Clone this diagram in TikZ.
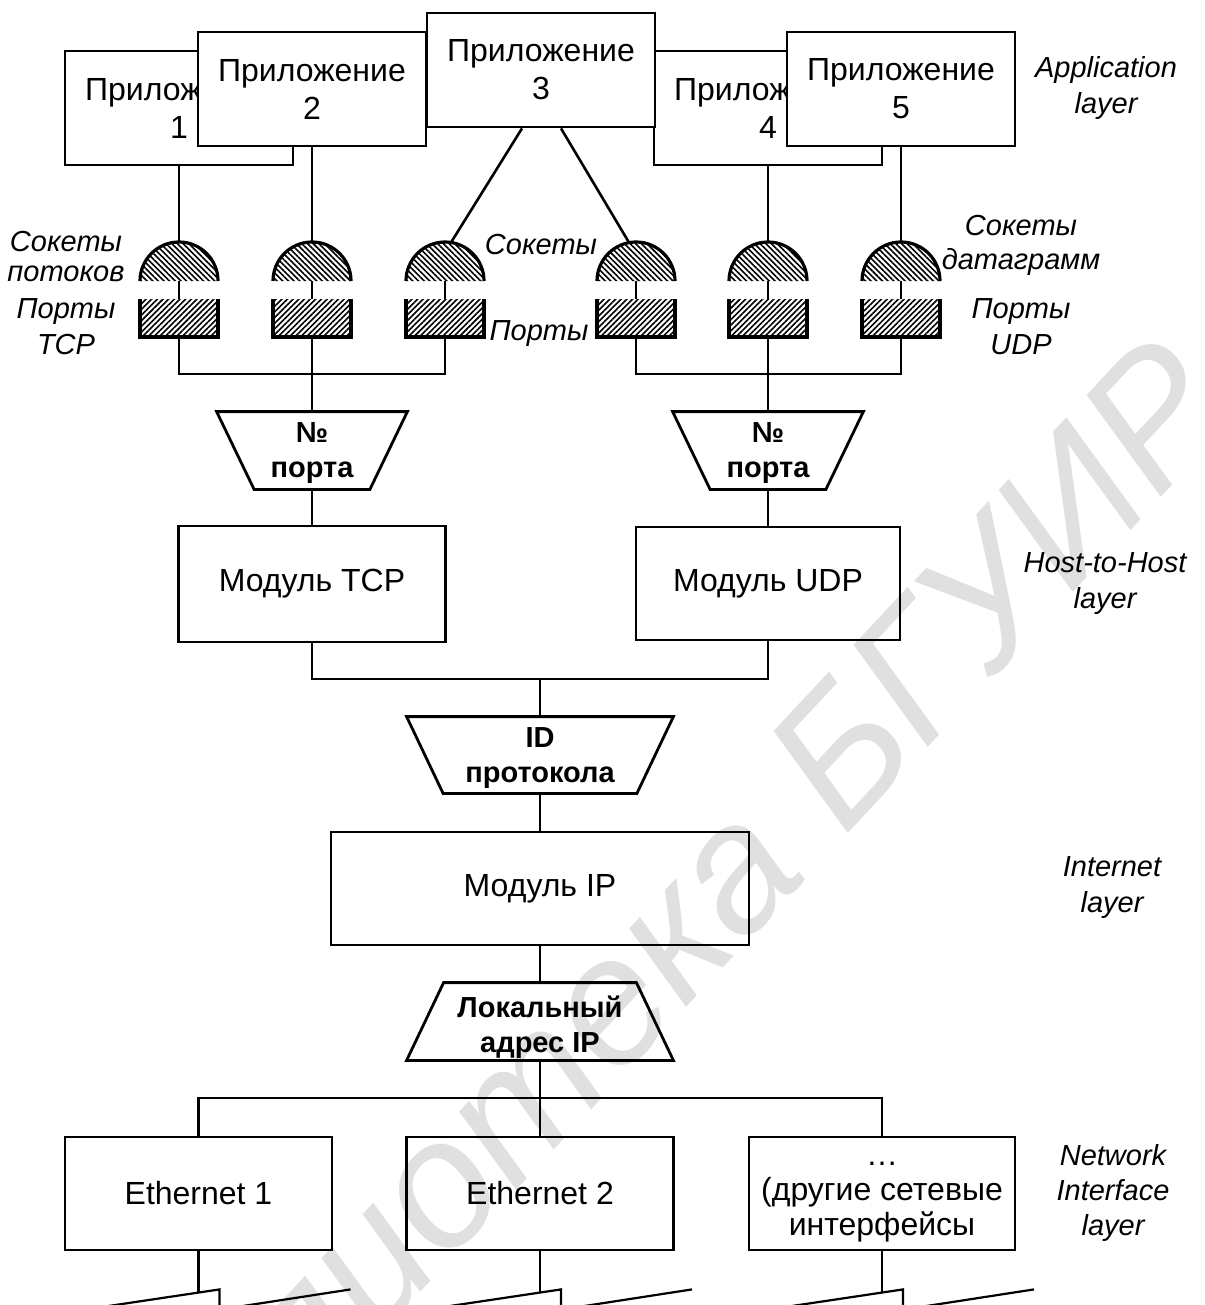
\documentclass[tikz,border=0pt]{standalone}
\usepackage{fontspec}
\setmainfont{Liberation Sans}
\usetikzlibrary{calc,patterns.meta}
\begin{document}
\begin{tikzpicture}[x=0.5pt,y=0.5pt,
  line join=miter,
  boxline/.style={line width=1.4pt},
  conn/.style={line width=1.3pt},
  cable/.style={line width=1.1pt},
  sockline/.style={line width=1.6pt},
  appbox/.style={draw,boxline,fill=white,minimum width=114pt,minimum height=57pt,
    inner sep=0pt,align=center,font=\fontsize{16}{19}\selectfont},
  modbox/.style={draw,boxline,inner sep=0pt,align=center,font=\fontsize{16}{17.5}\selectfont},
  tlabel/.style={inner sep=0pt,align=center,font=\bfseries\fontsize{14.5}{17.5}\selectfont},
  trap/.style={draw,boxline},
  layer/.style={inner sep=0pt,align=center,font=\itshape\fontsize{14.5}{18}\selectfont},
  dome/.style={pattern={Lines[angle=-45,distance=2pt,line width=0.8pt]}},
  port/.style={pattern={Lines[angle=45,distance=2pt,line width=0.8pt]}},
]
\useasboundingbox (0,0) rectangle (1204,-1305);
\clip (0,0) rectangle (1204,-1305);

% library stamp
\node[rotate=47,text=black!12,inner sep=0pt,
  font=\itshape\fontsize{90}{90}\selectfont] (stamp) at (619,-984) {Библиотека БГУИР};

% application layer
\node[appbox] (app1) at (179,-108) {Приложение\\1};
\node[appbox] (app4) at (768,-108) {Приложение\\4};
\node[appbox] (app2) at (312,-89) {Приложение\\2};
\node[appbox] (app5) at (901,-89) {Приложение\\5};
\node[appbox] (app3) at (541,-70) {Приложение\\3};

% sockets and ports
\foreach \n/\c in {1/179,2/312,3/445,4/636,5/768,6/901}{
  \fill[dome] (\c-39,-281) arc[start angle=180,end angle=0,radius=19.5pt] -- cycle;
  \draw[sockline] (\c-39,-281) arc[start angle=180,end angle=0,radius=19.5pt];
  \fill[port] (\c-39,-299) rectangle (\c+39,-337);
  \draw[sockline] (\c-39,-299) -- (\c-39,-337) -- (\c+39,-337) -- (\c+39,-299);
  \coordinate (st\n) at (\c,-242);
  \coordinate (sb\n) at (\c,-281);
  \coordinate (pt\n) at (\c,-299);
  \coordinate (pb\n) at (\c,-337);
  \draw[conn] (sb\n) -- (pt\n);
}

\draw[conn] (app1.south) -- (st1);
\draw[conn] (app2.south) -- (st2);
\draw[conn] ($(app3.south)+(-19,0)$) -- ($(st3)+(6,-0.5)$);
\draw[conn] ($(app3.south)+(20,0)$) -- ($(st4)+(-7,-0.5)$);
\draw[conn] (app4.south) -- (st5);
\draw[conn] (app5.south) -- (st6);

% socket / port captions
\node[layer,font=\itshape\fontsize{14.5}{15}\selectfont] (lsockl) at (66,-257) {Сокеты\\потоков};
\node[layer] (lportl) at (66,-327) {Порты\\TCP};
\node[layer] (lsockm) at (541,-245) {Сокеты};
\node[layer] (lportm) at (539,-334) {Порты};
\node[layer,font=\itshape\fontsize{14.5}{17}\selectfont] (lsockr) at (1021,-245) {Сокеты\\датаграмм};
\node[layer] (lportr) at (1021,-327) {Порты\\UDP};

% port number selectors
\node[tlabel,minimum width=95pt,minimum height=38.5pt] (ptcp) at (312,-450.5) {\rule{0pt}{13pt}№\\порта};
\draw[trap] (ptcp.north west) -- (ptcp.north east) -- ($(ptcp.south east)+(-37.5,0)$)
  -- ($(ptcp.south west)+(37.5,0)$) -- cycle;
\node[tlabel,minimum width=95pt,minimum height=38.5pt] (pudp) at (768,-450.5) {\rule{0pt}{13pt}№\\порта};
\draw[trap] (pudp.north west) -- (pudp.north east) -- ($(pudp.south east)+(-37.5,0)$)
  -- ($(pudp.south west)+(37.5,0)$) -- cycle;

\coordinate (btcp) at (312,-374);
\draw[conn] (pb1) |- (btcp) -| (pb3);
\draw[conn] (pb2) -- (ptcp.north);
\coordinate (budp) at (768,-374);
\draw[conn] (pb4) |- (budp) -| (pb6);
\draw[conn] (pb5) -- (pudp.north);

% host-to-host layer
\node[modbox,minimum width=133.5pt,minimum height=58pt] (tcp) at (312,-584) {Модуль TCP};
\node[modbox,minimum width=132pt,minimum height=56.5pt] (udp) at (768,-583.5) {Модуль UDP};
\draw[conn] (ptcp.south) -- (tcp.north);
\draw[conn] (pudp.south) -- (udp.north);

% protocol selector
\node[tlabel,minimum width=133pt,minimum height=38pt] (pid) at (540,-755) {\rule{0pt}{13pt}ID\\протокола};
\draw[trap] (pid.north west) -- (pid.north east) -- ($(pid.south east)+(-36.5,0)$)
  -- ($(pid.south west)+(36.5,0)$) -- cycle;
\coordinate (bhost) at (540,-679);
\draw[conn] (tcp.south) |- (bhost) -| (udp.south);
\draw[conn] (bhost) -- (pid.north);

% internet layer
\node[modbox,minimum width=209pt,minimum height=56.5pt] (ip) at (540,-888.5) {Модуль IP};
\draw[conn] (pid.south) -- (ip.north);

% local address selector
\node[tlabel,minimum width=133pt,minimum height=38.5pt] (ploc) at (540,-1021.5)
  {\rule{0pt}{16pt}Локальный\\адрес IP};
\draw[trap] ($(ploc.north west)+(37,0)$) -- ($(ploc.north east)+(-37,0)$) -- (ploc.south east)
  -- (ploc.south west) -- cycle;
\draw[conn] (ip.south) -- (ploc.north);

% network interface layer
\node[modbox,minimum width=133.5pt,minimum height=56.5pt] (eth1) at (198.5,-1193.5) {Ethernet 1};
\node[modbox,minimum width=133.5pt,minimum height=56.5pt] (eth2) at (540,-1193.5) {Ethernet 2};
\node[modbox,minimum width=133pt,minimum height=56.5pt] (eth3) at (882,-1193.5)
  {\strut…\\(другие сетевые\\интерфейсы\strut};
\coordinate (bnet) at (540,-1098);
\draw[conn] (eth1.north) |- (bnet) -| (eth3.north);
\draw[conn] (ploc.south) -- (eth2.north);

% attached network segments
\foreach \n in {1,2,3}{
  \coordinate (cb\n) at ($(eth\n.south)+(0,-41)$);
  \draw[cable] (eth\n.south) -- (cb\n);
  \draw[cable] ($(cb\n)+(-106,-16)$) -- ($(cb\n)+(21,3)$) -- ($(cb\n)+(21,-20)$);
  \draw[cable] ($(cb\n)+(29,-16)$) -- ($(cb\n)+(152,3)$);
}

% layer names
\node[layer] (lapp) at (1106,-88) {Application\\layer};
\node[layer] (lhost) at (1105,-584) {Host-to-Host\\layer};
\node[layer] (linet) at (1112,-888) {Internet\\layer};
\node[layer,font=\itshape\fontsize{14.5}{17.5}\selectfont] (lnet) at (1113,-1193) {Network\\Interface\\layer};
\end{tikzpicture}
\end{document}
